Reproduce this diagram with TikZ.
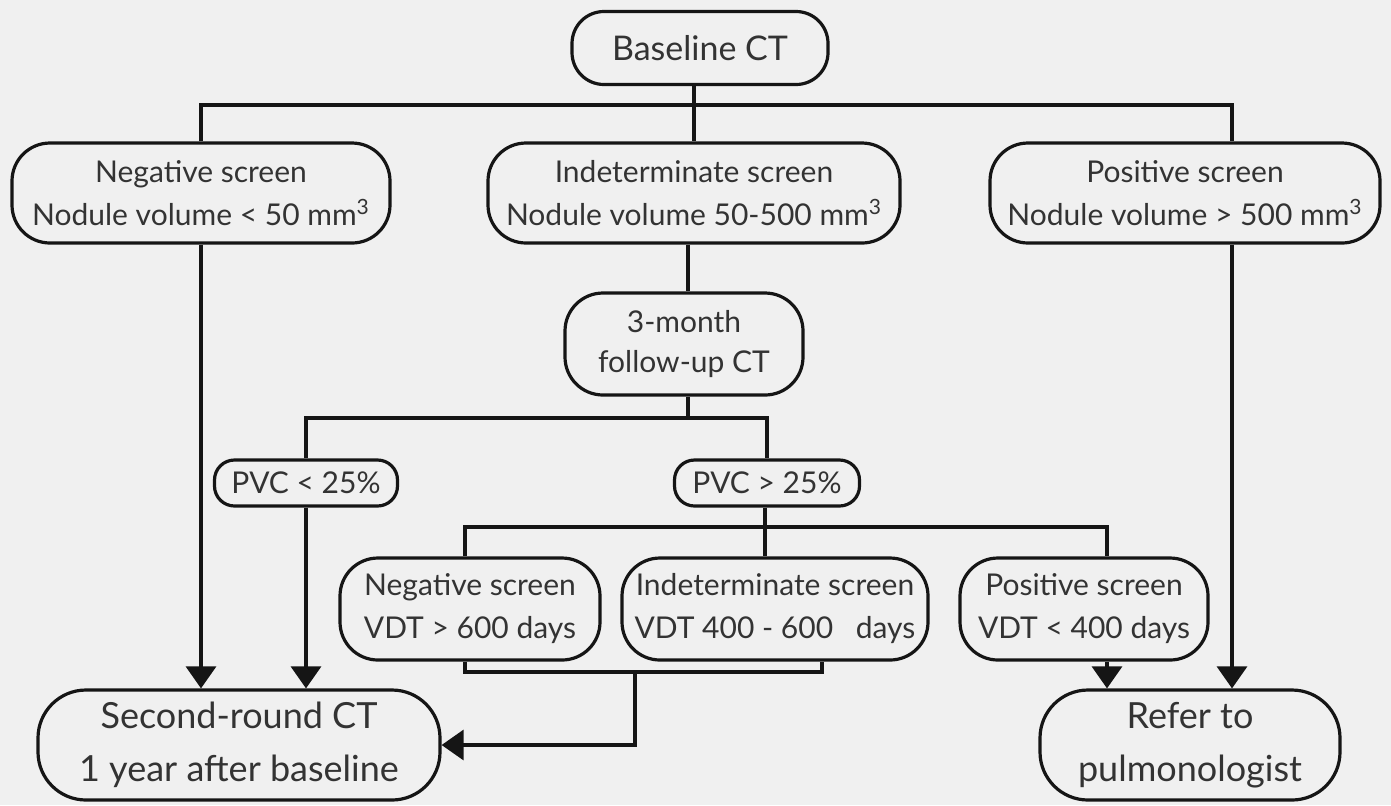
\documentclass[tikz,border=0pt]{standalone}
\usepackage{fontspec}
\setmainfont{Lato}
\usepackage{tikz}
\usetikzlibrary{arrows.meta,calc,positioning}
\definecolor{paper}{HTML}{F0F0F0}
\definecolor{ink}{HTML}{151515}
\definecolor{type}{HTML}{333333}

\begin{document}
\begin{tikzpicture}[x=0.5pt,y=-0.5pt,
    box/.style={draw=ink,line width=1.6pt,rounded corners=19pt,align=center,text=type,
      inner sep=0pt,font=\fontsize{15}{21.5}\selectfont},
    pill/.style={box,rounded corners=10pt},
    big/.style={font=\fontsize{18}{26.5}\selectfont},
    link/.style={draw=ink,line width=1.6pt},
    arr/.style={link,-{Triangle[width=15pt,length=11pt]}}]
        \fill[paper] (0,0) rectangle (1391,805);
        \node[box,rounded corners=16pt,minimum width=128pt,minimum height=36.5pt,
          font=\fontsize{17}{22}\selectfont] (base) at (700,48) {Baseline CT};
        \node[box,minimum width=189pt,minimum height=50pt] (neg) at (201,193)
          {Negative screen\\Nodule volume < 50 mm\textsuperscript{3}};
        \node[box,minimum width=206pt,minimum height=50pt] (ind) at (694,193)
          {Indeterminate screen\\Nodule volume 50-500 mm\textsuperscript{3}};
        \node[box,minimum width=195pt,minimum height=50pt] (pos) at (1185,193)
          {Positive screen\\Nodule volume > 500 mm\textsuperscript{3}};
        \node[box,minimum width=119pt,minimum height=51pt,font=\fontsize{15}{20}\selectfont] (fup) at (684,344)
          {3-month\\follow-up CT};
        \node[pill,minimum width=91.5pt,minimum height=23pt] (pvcl) at (306,483) {PVC < 25\%};
        \node[pill,minimum width=92.5pt,minimum height=23pt] (pvch) at (767,483) {PVC > 25\%};
        \node[box,minimum width=130pt,minimum height=51pt] (vneg) at (470,609)
          {Negative screen\\VDT > 600 days};
        \node[box,minimum width=153pt,minimum height=51pt] (vind) at (775,609)
          {Indeterminate screen\\VDT 400 - 600\enspace\ days};
        \node[box,minimum width=124pt,minimum height=51pt] (vpos) at (1084,609)
          {Positive screen\\VDT < 400 days};
        \node[box,big,rounded corners=24pt,minimum width=201pt,minimum height=55pt] (second) at (239,745)
          {Second-round CT\\1 year after baseline};
        \node[box,big,rounded corners=24pt,minimum width=150pt,minimum height=55pt] (refer) at (1190,745)
          {Refer to\\pulmonologist};
        \coordinate (j1) at (694,105);
        \coordinate (j2) at (688,418);
        \coordinate (j3) at (765,527);
        \coordinate (j4) at (635,672);
        \draw[link] (base.south -| j1) -- (ind.north);
        \draw[link] (neg.north) |- (j1) -| ([xshift=23.5pt]pos.north);
        \draw[link] (ind.south -| j2) -- (fup.north -| j2);
        \draw[link] (fup.south -| j2) -- (j2);
        \draw[link] (pvcl.north) |- (j2) -| (pvch.north);
        \draw[link] (pvch.south -| j3) -- (vind.north -| j3);
        \draw[link] ([xshift=-2.5pt]vneg.north) |- (j3) -| ([xshift=11.5pt]vpos.north);
        \draw[link] ([xshift=-2.5pt]vneg.south) |- (j4) -| ([xshift=23.5pt]vind.south);
        \draw[arr] (j4) |- (second.east);
        \draw[arr] (neg.south) -- (neg.south |- second.north);
        \draw[arr] (pvcl.south) -- (pvcl.south |- second.north);
        \draw[arr] ([xshift=11.5pt]vpos.south) -- ([xshift=11.5pt]vpos.south |- refer.north);
        \draw[arr] ([xshift=23.5pt]pos.south) -- ([xshift=23.5pt]pos.south |- refer.north);
      \end{tikzpicture}
\end{document}
